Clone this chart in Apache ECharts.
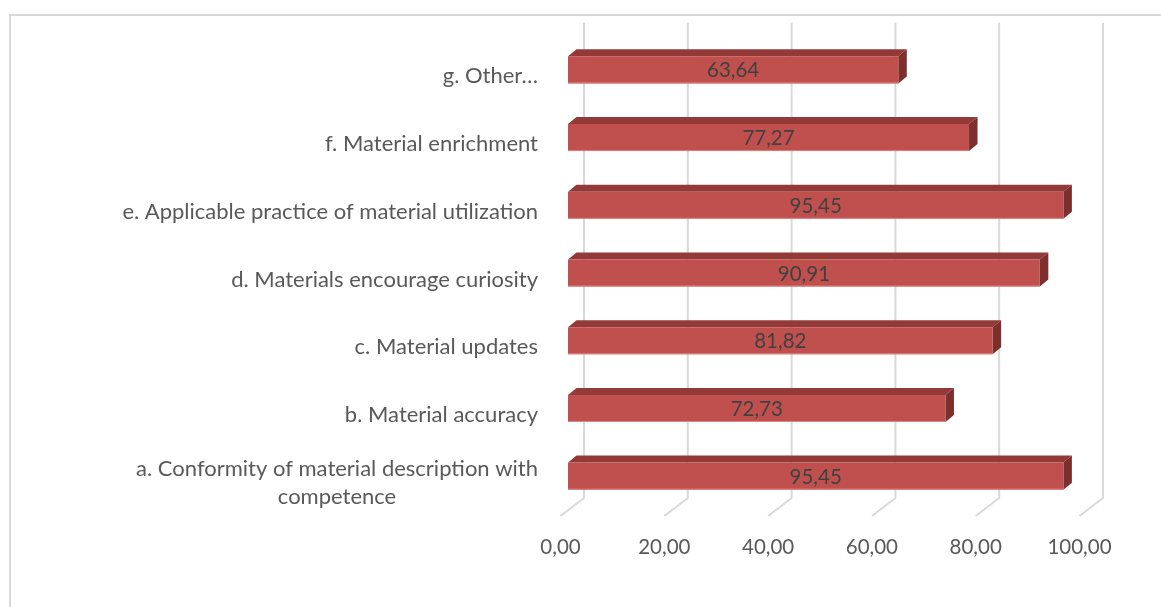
<!DOCTYPE html>
<html>
<head>
<meta charset="utf-8">
<script src="https://cdn.jsdelivr.net/npm/echarts@6/dist/echarts.min.js"></script>
<style>
html,body{margin:0;padding:0;background:#fff;}
#c{width:1161px;height:607px;}
</style>
</head>
<body>
<div id="c"></div>
<script>
const categories = [
  'a. Conformity of material description with\ncompetence',
  'b. Material accuracy',
  'c. Material updates',
  'd. Materials encourage curiosity',
  'e. Applicable practice of material utilization',
  'f. Material enrichment',
  'g. Other\u2026'
];
const values = [95.45, 72.73, 81.82, 90.91, 95.45, 77.27, 63.64];
const xTicks = [0, 20, 40, 60, 80, 100];

const FONT = 'Lato';
const CAT_SIZE = 22;
const NUM_SIZE = 20.5;
const fmt = v => v.toFixed(2).replace('.', ',');

const cv = document.createElement('canvas').getContext('2d');
cv.font = CAT_SIZE + 'px ' + FONT;
let wrapW = 0;
categories.forEach(c => { const ls = c.split('\n'); if (ls.length > 1) ls.forEach(l => { wrapW = Math.max(wrapW, cv.measureText(l).width); }); });

const chart = echarts.init(document.getElementById('c'), null, {renderer: 'canvas'});

const DX = 8.5, DY = 7;         // bar depth offset
const BACK = 16;                 // back wall offset from bar front plane
const FLOOR_DX = -23.5, FLOOR_DY = 18;

const option = {
  animation: false,
  backgroundColor: '#ffffff',
  graphic: [{
    type: 'rect', z: -10, silent: true,
    shape: {x: 10, y: 15, width: 1300, height: 800},
    style: {fill: 'none', stroke: '#d9d9d9', lineWidth: 2}
  }],
  grid: [
    {left: 568, width: 519, top: 36, height: 474},
    {left: 560.5, width: 519, top: 36, height: 480}
  ],
  xAxis: [
    {gridIndex: 0, type: 'value', min: 0, max: 100, interval: 20, show: false},
    {gridIndex: 1, type: 'value', min: 0, max: 100, interval: 20,
      axisLine: {show: false}, axisTick: {show: false}, splitLine: {show: false},
      axisLabel: {margin: 21, color: '#595959', fontFamily: FONT, fontSize: NUM_SIZE,
        formatter: v => fmt(v)}}
  ],
  yAxis: [
    {gridIndex: 0, type: 'category', data: categories,
      axisLine: {show: false}, axisTick: {show: false}, splitLine: {show: false},
      axisLabel: {margin: 30, color: '#595959', fontFamily: FONT, fontSize: CAT_SIZE,
        lineHeight: 28, padding: [13, 0, 0, 0],
        formatter: function (val) {
          const ls = val.split('\n');
          if (ls.length === 1) return val;
          return ls.map(l => '{c|' + l + '}').join('\n');
        },
        rich: {
          c: {width: wrapW, align: 'center', fontFamily: FONT, fontSize: CAT_SIZE, color: '#595959', lineHeight: 28}
        }
      }},
    {gridIndex: 1, type: 'category', data: categories, show: false}
  ],
  series: [
    {
      type: 'custom', name: 'grid', xAxisIndex: 0, yAxisIndex: 0, z: 1, silent: true,
      data: xTicks.map(t => [t, 0]),
      renderItem: function (params, api) {
        const cs = params.coordSys;
        const x = api.coord([api.value(0), 0])[0] + BACK;
        const yTop = cs.y - 13.3;
        const yBot = cs.y + cs.height - 12;
        return {
          type: 'polyline',
          shape: {points: [[x, yTop], [x, yBot], [x + FLOOR_DX, yBot + FLOOR_DY]]},
          style: {stroke: '#d9d9d9', lineWidth: 2, fill: null}
        };
      }
    },
    {
      type: 'custom', name: 'bars', xAxisIndex: 0, yAxisIndex: 0, z: 5,
      data: values.map((v, i) => [v, i]),
      renderItem: function (params, api) {
        const v = api.value(0), idx = api.value(1);
        const p0 = api.coord([0, idx]);
        const p1 = api.coord([v, idx]);
        const h = api.size([0, 1])[1] * 0.4;
        const top = p0[1] - h / 2, bot = p0[1] + h / 2;
        const x0 = p0[0], x1 = p1[0];
        return {
          type: 'group',
          children: [
            {type: 'polygon', shape: {points: [[x0, top], [x0 + DX, top - DY], [x1 + DX, top - DY], [x1, top]]},
              style: {fill: '#933a38'}},
            {type: 'polygon', shape: {points: [[x1, top], [x1 + DX, top - DY], [x1 + DX, bot - DY], [x1, bot]]},
              style: {fill: '#7c2f2d'}},
            {type: 'rect', shape: {x: x0, y: top, width: x1 - x0, height: h},
              style: {fill: '#c0504d'}},
            {type: 'line', shape: {x1: x0, y1: bot - 0.5, x2: x1, y2: bot - 0.5},
              style: {stroke: '#dc8583', lineWidth: 1}},
            {type: 'text', x: (x0 + x1) / 2, y: p0[1] + 1,
              style: {text: fmt(v), align: 'center', verticalAlign: 'middle',
                fill: '#404040', fontFamily: FONT, fontSize: NUM_SIZE}}
          ]
        };
      }
    }
  ]
};
chart.setOption(option);
</script>
</body>
</html>
